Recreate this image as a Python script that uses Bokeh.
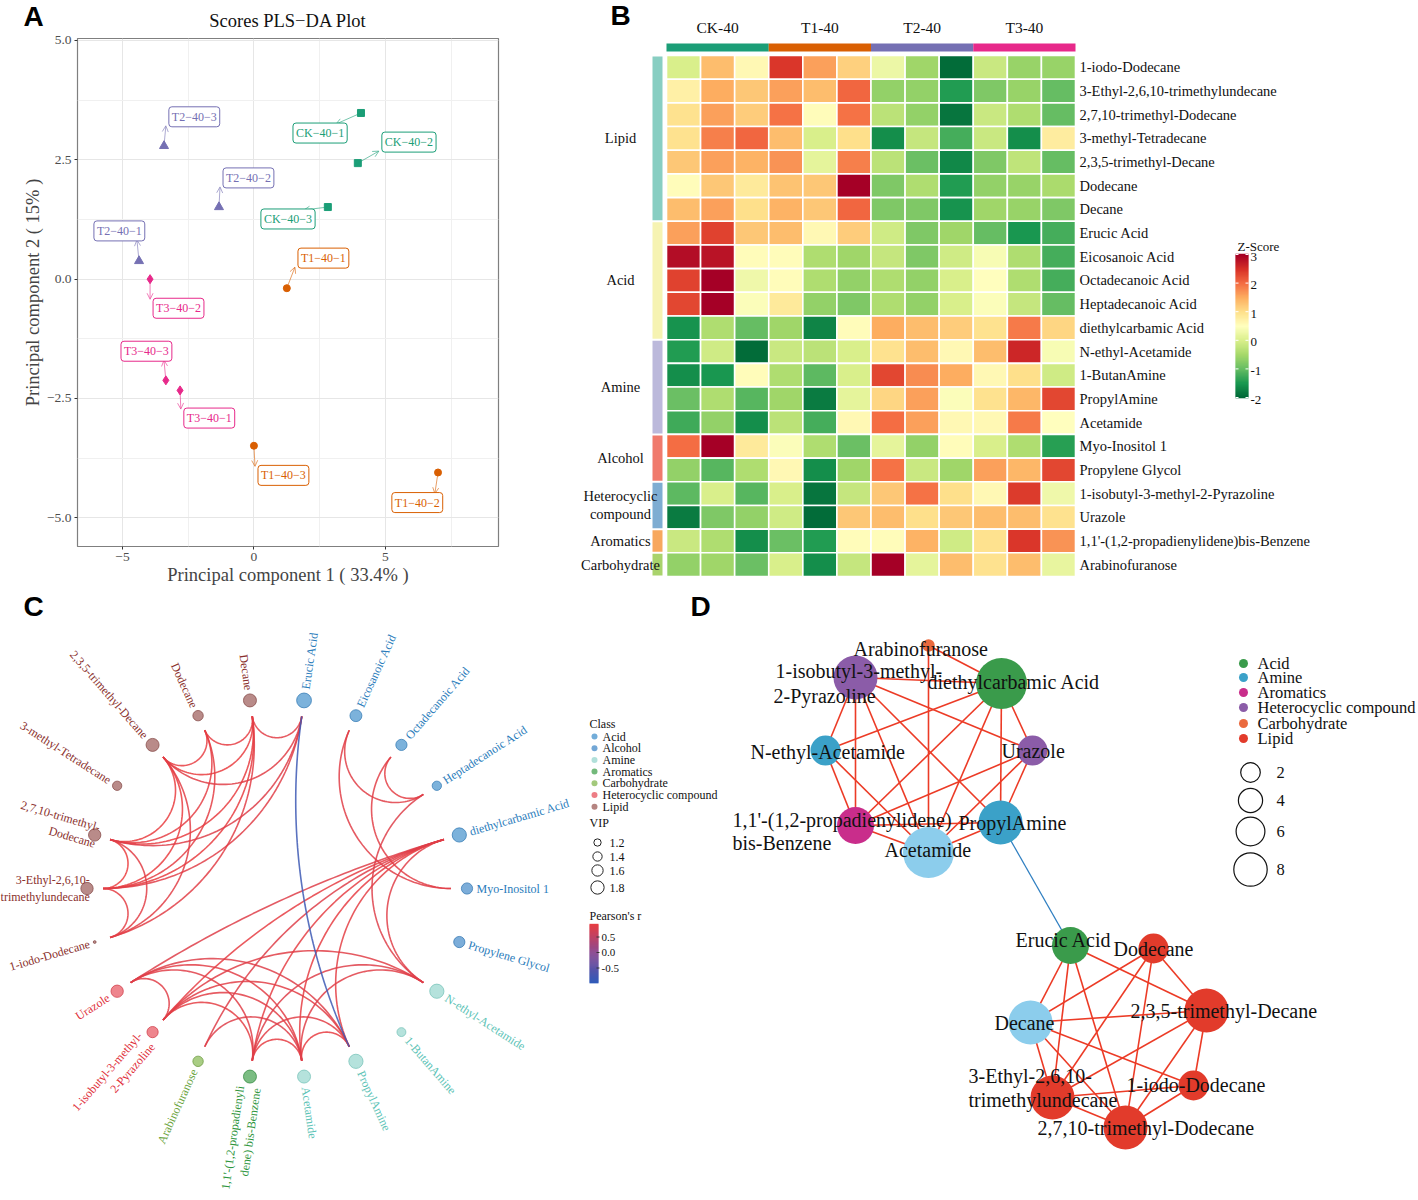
import math
import numpy as np
from bokeh.plotting import figure
from bokeh.models import (Range1d, FixedTicker, Label, Arrow, OpenHead, ColumnDataSource,
                          CustomJSTickFormatter)
from bokeh.transform import linear_cmap
from bokeh.layouts import row, column
from bokeh.core.properties import value
from bokeh.embed import file_html
from bokeh.resources import INLINE

SERIF = "Liberation Serif"
SANS = "Liberation Sans"
MINUS = "\u2212"

# ======================= DATA =======================
# ---- Panel A : PLS-DA scores ----
pls_sample = ["CK-40-1", "CK-40-2", "CK-40-3", "T1-40-1", "T1-40-2", "T1-40-3",
              "T2-40-1", "T2-40-2", "T2-40-3", "T3-40-1", "T3-40-2", "T3-40-3"]
pls_group = ["CK-40"] * 3 + ["T1-40"] * 3 + ["T2-40"] * 3 + ["T3-40"] * 3
pc1 = [4.07, 3.95, 2.81, 1.25, 7.0, 0.0, -4.37, -1.33, -3.42, -2.81, -3.95, -3.35]
pc2 = [3.48, 2.43, 1.51, -0.19, -4.05, -3.49, 0.38, 1.51, 2.79, -2.33, 0.0, -2.12]
# repelled label anchors (left edge, centre)
lab_x = [1.37, 4.75, 0.15, 1.56, 5.13, 0.04, -6.2, -1.29, -3.35, -2.78, -3.95, -5.17]
lab_y = [3.06, 2.87, 1.26, 0.44, -4.68, -4.11, 1.01, 2.12, 3.40, -2.91, -0.61, -1.51]

# ---- Panel B : heatmap (z-scores) ----
groups = ["CK-40", "T1-40", "T2-40", "T3-40"]
metabolites = ["1-iodo-Dodecane", "3-Ethyl-2,6,10-trimethylundecane", "2,7,10-trimethyl-Dodecane",
               "3-methyl-Tetradecane", "2,3,5-trimethyl-Decane", "Dodecane", "Decane",
               "Erucic Acid", "Eicosanoic Acid", "Octadecanoic Acid", "Heptadecanoic Acid",
               "diethylcarbamic Acid", "N-ethyl-Acetamide", "1-ButanAmine", "PropylAmine",
               "Acetamide", "Myo-Inositol 1", "Propylene Glycol",
               "1-isobutyl-3-methyl-2-Pyrazoline", "Urazole",
               "1,1'-(1,2-propadienylidene)bis-Benzene", "Arabinofuranose"]
met_class = ["Lipid"] * 7 + ["Acid"] * 5 + ["Amine"] * 4 + ["Alcohol"] * 2 + \
            ["Heterocyclic compound"] * 2 + ["Aromatics"] + ["Carbohydrate"]
CK40_1 = [0.0, 0.75, 0.95, 0.95, 1.25, 0.55, 1.35, 1.6, 2.85, 2.35, 2.3, -1.55, -1.45, -1.6, -0.95, -1.25, 2.0, -0.65, -1.05, -1.8, -0.15, -0.65]
CK40_2 = [1.35, 1.5, 1.6, 1.85, 1.6, 1.25, 1.6, 2.35, 2.8, 3.0, 3.0, -0.4, -0.1, -1.5, -0.4, -0.65, 3.0, -1.1, 0.0, -0.8, -0.4, -0.55]
CK40_3 = [0.6, 1.25, 1.2, 2.05, 1.45, 0.85, 1.0, 1.25, 0.55, 0.3, 0.45, -1.0, -1.95, 0.55, -1.1, -1.6, 0.85, -0.4, -1.1, -0.65, -1.6, -0.95]
T1_40_1 = [2.45, 1.6, 1.95, 1.35, 1.7, 1.3, 1.45, 1.35, 0.55, 0.55, 0.85, -0.55, -0.15, -0.4, -0.55, -0.3, 0.45, 0.6, 0.0, -0.1, -0.95, 0.0]
T1_40_2 = [1.6, 1.35, 0.55, 0.0, 0.15, 1.25, 1.25, 0.6, -0.4, -0.4, -0.65, -1.7, -0.3, -1.05, -1.8, -1.2, -0.4, -1.6, -1.85, -1.95, -1.45, -1.6]
T1_40_3 = [1.15, 2.05, 1.95, 1.0, 1.85, 3.0, 2.05, 1.2, -0.55, -0.65, -0.8, 0.55, 0.0, 0.0, 0.15, 0.6, -0.95, -0.55, -0.2, 1.25, 0.55, -0.2]
T2_40_1 = [0.25, -0.65, -0.3, -1.6, -0.3, -0.8, -0.8, -0.1, -0.2, -0.4, -0.4, 1.5, 0.95, 2.3, 1.1, 2.0, 0.15, 1.95, 1.25, 1.35, 0.55, 3.0]
T2_40_2 = [-0.55, -0.65, -0.65, -0.2, -0.95, -0.4, -0.8, -0.8, -0.8, -0.65, -0.65, 1.35, 1.35, 1.75, 1.6, 1.6, -0.65, -0.15, 1.95, 1.0, 1.45, 0.15]
T2_40_3 = [-1.95, -1.45, -1.85, -1.2, -1.65, -1.45, -1.55, -0.55, -0.1, 0.0, 0.0, 1.2, 0.6, 1.5, 0.45, 0.6, 0.55, -0.55, 1.0, 1.25, -0.1, 1.35]
T3_40_1 = [-0.15, -0.8, -0.15, -0.15, -0.8, -0.65, -0.55, -1.0, 0.4, 0.5, 0.45, 0.95, 1.35, 0.6, 0.95, 0.6, 0.0, 1.6, 0.6, 1.35, 0.95, 0.95]
T3_40_2 = [-0.6, -0.6, -0.4, -1.6, -0.25, -0.6, -0.6, -1.5, -0.4, -0.4, -0.2, 1.9, 2.6, 1.0, 1.4, 1.9, -0.4, 1.4, 2.4, 1.35, 2.45, 1.35]
T3_40_3 = [-0.6, -1.0, -1.0, 0.8, -1.0, -0.45, -0.8, -1.2, -1.2, -1.2, -1.0, 1.1, 0.4, -0.1, 2.3, 0.5, -1.4, 2.3, 0.3, 0.95, 1.7, 0.2]
z_ticks = [3, 2, 1, 0, -1, -2]

# ---- Panel C : correlation chord (circular order, clockwise from top) ----
c_names = ["Erucic Acid", "Eicosanoic Acid", "Octadecanoic Acid", "Heptadecanoic Acid",
           "diethylcarbamic Acid", "Myo-Inositol 1", "Propylene Glycol", "N-ethyl-Acetamide",
           "1-ButanAmine", "PropylAmine", "Acetamide", "1,1'-(1,2-propadienylidene)bis-Benzene",
           "Arabinofuranose", "1-isobutyl-3-methyl-2-Pyrazoline", "Urazole", "1-iodo-Dodecane",
           "3-Ethyl-2,6,10-trimethylundecane", "2,7,10-trimethyl-Dodecane", "3-methyl-Tetradecane",
           "2,3,5-trimethyl-Decane", "Dodecane", "Decane"]
c_label = ["Erucic Acid", "Eicosanoic Acid", "Octadecanoic Acid", "Heptadecanoic Acid",
           "diethylcarbamic Acid", "Myo-Inositol 1", "Propylene Glycol", "N-ethyl-Acetamide",
           "1-ButanAmine", "PropylAmine", "Acetamide", "1,1'-(1,2-propadienyli\ndene) bis-Benzene",
           "Arabinofuranose", "1-isobutyl-3-methyl-\n2-Pyrazoline", "Urazole", "1-iodo-Dodecane",
           "3-Ethyl-2,6,10-\ntrimethylundecane", "2,7,10-trimethyl-\nDodecane", "3-methyl-Tetradecane",
           "2,3,5-trimethyl-Decane", "Dodecane", "Decane"]
c_class = ["Acid", "Acid", "Acid", "Acid", "Acid", "Alcohol", "Alcohol", "Amine", "Amine", "Amine",
           "Amine", "Aromatics", "Carbohydrate", "Heterocyclic compound", "Heterocyclic compound",
           "Lipid", "Lipid", "Lipid", "Lipid", "Lipid", "Lipid", "Lipid"]
c_vip = [1.95, 1.66, 1.59, 1.40, 1.89, 1.59, 1.59, 1.89, 1.36, 1.89, 1.77, 1.77, 1.51, 1.59,
         1.70, 0.75, 1.70, 1.70, 1.40, 1.77, 1.51, 1.77]
class_order = ["Acid", "Alcohol", "Amine", "Aromatics", "Carbohydrate", "Heterocyclic compound", "Lipid"]
vip_legend = [1.2, 1.4, 1.6, 1.8]
r_ticks = [0.5, 0.0, -0.5]

# correlation edges (|r| above threshold)
edge_a = ["Erucic Acid", "Erucic Acid", "Erucic Acid", "Erucic Acid",
          "Dodecane", "Dodecane", "Dodecane", "Dodecane",
          "Decane", "Decane", "Decane", "Decane",
          "2,3,5-trimethyl-Decane", "2,3,5-trimethyl-Decane", "2,3,5-trimethyl-Decane",
          "3-Ethyl-2,6,10-trimethylundecane", "3-Ethyl-2,6,10-trimethylundecane", "1-iodo-Dodecane",
          "Arabinofuranose", "Arabinofuranose",
          "1-isobutyl-3-methyl-2-Pyrazoline", "1-isobutyl-3-methyl-2-Pyrazoline",
          "1-isobutyl-3-methyl-2-Pyrazoline", "1-isobutyl-3-methyl-2-Pyrazoline",
          "1-isobutyl-3-methyl-2-Pyrazoline", "1-isobutyl-3-methyl-2-Pyrazoline",
          "diethylcarbamic Acid", "diethylcarbamic Acid", "diethylcarbamic Acid",
          "diethylcarbamic Acid", "diethylcarbamic Acid",
          "N-ethyl-Acetamide", "N-ethyl-Acetamide",
          "Urazole", "Urazole", "Urazole",
          "1,1'-(1,2-propadienylidene)bis-Benzene", "1,1'-(1,2-propadienylidene)bis-Benzene",
          "Acetamide", "PropylAmine",
          "Eicosanoic Acid", "Eicosanoic Acid", "Octadecanoic Acid", "Octadecanoic Acid",
          "Heptadecanoic Acid"]
edge_b = ["Decane", "3-Ethyl-2,6,10-trimethylundecane", "2,7,10-trimethyl-Dodecane", "2,3,5-trimethyl-Decane",
          "Decane", "2,3,5-trimethyl-Decane", "3-Ethyl-2,6,10-trimethylundecane", "2,7,10-trimethyl-Dodecane",
          "2,3,5-trimethyl-Decane", "1-iodo-Dodecane", "3-Ethyl-2,6,10-trimethylundecane", "2,7,10-trimethyl-Dodecane",
          "3-Ethyl-2,6,10-trimethylundecane", "1-iodo-Dodecane", "2,7,10-trimethyl-Dodecane",
          "1-iodo-Dodecane", "2,7,10-trimethyl-Dodecane", "2,7,10-trimethyl-Dodecane",
          "diethylcarbamic Acid", "Acetamide",
          "diethylcarbamic Acid", "N-ethyl-Acetamide", "1,1'-(1,2-propadienylidene)bis-Benzene",
          "Acetamide", "PropylAmine", "Urazole",
          "N-ethyl-Acetamide", "1,1'-(1,2-propadienylidene)bis-Benzene", "Acetamide",
          "PropylAmine", "Urazole",
          "1,1'-(1,2-propadienylidene)bis-Benzene", "Acetamide",
          "1,1'-(1,2-propadienylidene)bis-Benzene", "Acetamide", "PropylAmine",
          "Acetamide", "PropylAmine",
          "PropylAmine", "Erucic Acid",
          "Heptadecanoic Acid", "Myo-Inositol 1", "Heptadecanoic Acid", "Myo-Inositol 1",
          "N-ethyl-Acetamide"]
edge_r = [0.86, 0.84, 0.83, 0.85, 0.90, 0.91, 0.88, 0.89, 0.93, 0.87, 0.92, 0.92,
          0.94, 0.86, 0.93, 0.88, 0.95, 0.87,
          0.83, 0.82, 0.90, 0.85, 0.88, 0.87, 0.86, 0.84,
          0.84, 0.89, 0.90, 0.88, 0.83, 0.83, 0.85, 0.84, 0.86, 0.82, 0.90, 0.87,
          0.91, -0.82, 0.85, 0.84, 0.88, 0.86, 0.82]

# ---- Panel D : network ----
d_names = ["Arabinofuranose", "1-isobutyl-3-methyl-2-Pyrazoline", "diethylcarbamic Acid",
           "N-ethyl-Acetamide", "Urazole", "1,1'-(1,2-propadienylidene)bis-Benzene", "PropylAmine",
           "Acetamide", "Erucic Acid", "Dodecane", "Decane", "2,3,5-trimethyl-Decane",
           "1-iodo-Dodecane", "3-Ethyl-2,6,10-trimethylundecane", "2,7,10-trimethyl-Dodecane"]
d_class = ["Carbohydrate", "Heterocyclic compound", "Acid", "Amine", "Heterocyclic compound",
           "Aromatics", "Amine", "Amine", "Acid", "Lipid", "Lipid", "Lipid", "Lipid", "Lipid", "Lipid"]
d_degree = [1.5, 6, 7, 4, 4, 5, 6, 7, 5, 4, 6, 6, 4, 6, 6]
# layout coordinates (page pixels)
d_x = [928, 855, 1001, 825, 1032, 855, 1000, 928, 1070, 1153, 1030, 1206, 1193, 1052, 1125]
d_y = [645, 677, 683, 750, 750, 825, 822, 852, 945, 948, 1022, 1010, 1085, 1097, 1127]
d_text = ["Arabinofuranose", "1-isobutyl-3-methyl-", "2-Pyrazoline", "diethylcarbamic Acid",
          "N-ethyl-Acetamide", "Urazole", "1,1'-(1,2-propadienylidene)", "bis-Benzene",
          "PropylAmine", "Acetamide", "Erucic Acid", "Dodecane", "2,3,5-trimethyl-Decane", "Decane",
          "3-Ethyl-2,6,10-", "trimethylundecane", "1-iodo-Dodecane", "2,7,10-trimethyl-Dodecane"]
d_text_x = [853, 775, 773, 927, 750, 1001, 732, 732, 958, 884, 1015, 1113, 1130, 994, 968, 968, 1126, 1037]
d_text_y = [648, 670, 695, 681, 751, 750, 819, 842, 822, 849, 939, 948, 1010, 1022, 1075, 1099, 1084, 1127]
d_legend_class = ["Acid", "Amine", "Aromatics", "Heterocyclic compound", "Carbohydrate", "Lipid"]
d_size_legend = [2, 4, 6, 8]

# ======================= STYLES =======================
grp_color = {"CK-40": "#1b9e77", "T1-40": "#d95f02", "T2-40": "#7570b3", "T3-40": "#e7298a"}
grp_marker = {"CK-40": "square", "T1-40": "circle", "T2-40": "triangle", "T3-40": "diamond"}
grp_msize = {"CK-40": 7, "T1-40": 7, "T2-40": 9, "T3-40": 9}
row_class_color = {"Lipid": "#88cec2", "Acid": "#f6f3b2", "Amine": "#bcb9db", "Alcohol": "#f07a6c",
                   "Heterocyclic compound": "#7eadd2", "Aromatics": "#f7a85e", "Carbohydrate": "#a9d36c"}
c_fill = {"Acid": "#5b9fd2", "Alcohol": "#5b98cf", "Amine": "#a3dbd3", "Aromatics": "#5aad64",
          "Carbohydrate": "#93c065", "Heterocyclic compound": "#ea6670", "Lipid": "#a86e6b"}
c_line = {"Acid": "#3b80b8", "Alcohol": "#3b7cb5", "Amine": "#7cc6bc", "Aromatics": "#3b8e47",
          "Carbohydrate": "#6f9e44", "Heterocyclic compound": "#d2424d", "Lipid": "#8a4f4c"}
c_text = {"Acid": "#2a7cbb", "Alcohol": "#2a7cbb", "Amine": "#5cc3b6", "Aromatics": "#2f963e",
          "Carbohydrate": "#6aa43c", "Heterocyclic compound": "#e0303a", "Lipid": "#8a2f2c"}
d_fill = {"Acid": "#3a9b4b", "Amine": "#3ba1c8", "Aromatics": "#c92d8b",
          "Heterocyclic compound": "#8b5ca8", "Carbohydrate": "#ea6a3e", "Lipid": "#e23b2b"}
d_fill_override = {"Acetamide": "#8ccdec", "Decane": "#8ccdec"}


def interp_palette(anchors, n):
    cols = [tuple(int(h[k:k + 2], 16) for k in (1, 3, 5)) for h in anchors]
    out = []
    for k in range(n):
        t = k / (n - 1) * (len(cols) - 1)
        i = min(int(t), len(cols) - 2)
        f = t - i
        c = [round(cols[i][j] * (1 - f) + cols[i + 1][j] * f) for j in range(3)]
        out.append("#%02x%02x%02x" % tuple(c))
    return out


z_pal = interp_palette(['#006837', '#1a9850', '#66bd63', '#a6d96a', '#d9ef8b', '#ffffbf',
                        '#fee08b', '#fdae61', '#f46d43', '#d73027', '#a50026'], 256)
r_pal = interp_palette(['#2c5cbb', '#8a4a92', '#f03c3a'], 256)


def clean(p):
    p.outline_line_color = None
    for g in p.grid:
        g.visible = False


def blank(w, h, xr, yr):
    p = figure(width=w, height=h, x_range=Range1d(*xr), y_range=Range1d(*yr),
               output_backend="svg", toolbar_location=None, min_border=0,
               x_axis_location=None, y_axis_location=None, frame_align=False)
    clean(p)
    return p


# ======================= PANEL A =======================
# strip above the scatter: panel letter and title
pAt = blank(560, 32, (0, 560), (32, 0))
pAt.text(x=[33], y=[16], text=["A"], text_font=value(SANS), text_font_style="bold",
         text_font_size="28px", text_align="center", text_baseline="middle")
pAt.text(x=[287.5], y=[20.5], text=["Scores PLS\u2212DA Plot"], text_font=value(SERIF),
         text_font_size="18.5px", text_align="center", text_baseline="middle", text_color="#111111")

pA = figure(width=560, height=558, x_range=Range1d(-6.71, 9.3), y_range=Range1d(-5.6, 5.04),
            output_backend="svg", toolbar_location=None,
            min_border_left=77, min_border_right=62, min_border_top=6, min_border_bottom=44,
            frame_align=False)
pA.xaxis.ticker = FixedTicker(ticks=[-5, 0, 5], minor_ticks=[-2.5, 2.5, 7.5])
pA.yaxis.ticker = FixedTicker(ticks=[-5, -2.5, 0, 2.5, 5], minor_ticks=[-3.75, -1.25, 1.25, 3.75])
pA.xaxis.formatter = CustomJSTickFormatter(code="return (tick < 0 ? '\u2212' : '') + Math.abs(tick).toFixed(0);")
pA.yaxis.formatter = CustomJSTickFormatter(code="return (tick < 0 ? '\u2212' : '') + Math.abs(tick).toFixed(1);")
pA.xaxis.axis_label = "Principal component 1 ( 33.4% )"
pA.yaxis.axis_label = "Principal component 2 ( 15% )"
for ax in (pA.xaxis, pA.yaxis):
    ax.axis_label_text_font = SERIF
    ax.axis_label_text_font_size = "18.5px"
    ax.axis_label_text_font_style = "normal"
    ax.axis_label_standoff = 1
    ax.major_label_text_font = SERIF
    ax.major_label_text_font_size = "13.5px"
    ax.major_label_text_color = "#4d4d4d"
    ax.axis_line_color = None
    ax.major_tick_in = 0
    ax.major_tick_out = 3
    ax.major_tick_line_color = "#333333"
    ax.minor_tick_line_color = None
    ax.major_label_standoff = 2
for g in (pA.xgrid, pA.ygrid):
    g.grid_line_color = "#e6e6e6"
    g.minor_grid_line_color = "#f0f0f0"
pA.outline_line_color = "#7f7f7f"
pA.outline_line_width = 1.2

srcA = ColumnDataSource(dict(x=pc1, y=pc2,
                             color=[grp_color[g] for g in pls_group],
                             marker=[grp_marker[g] for g in pls_group],
                             size=[grp_msize[g] for g in pls_group]))
SX = 421 / 16.01
SY = 508 / 10.64
BOX_W, BOX_H = 46, 18
for i, s in enumerate(pls_sample):
    col = grp_color[pls_group[i]]
    bx0, bx1 = lab_x[i], lab_x[i] + BOX_W / SX
    by0, by1 = lab_y[i] - BOX_H / 2 / SY, lab_y[i] + BOX_H / 2 / SY
    ex = min(max(pc1[i], bx0), bx1)
    ey = min(max(pc2[i], by0), by1)
    pA.add_layout(Arrow(x_start=pc1[i], y_start=pc2[i], x_end=ex, y_end=ey,
                        line_color=col, line_alpha=0.6, line_width=1,
                        end=OpenHead(size=6, line_color=col, line_alpha=0.6, line_width=1)))
    pA.add_layout(Label(x=lab_x[i] + 3 / SX, y=lab_y[i], text=s.replace("-", MINUS),
                        text_font=SERIF, text_font_size="12px", text_color=col,
                        text_baseline="middle", text_align="left",
                        border_line_color=col, border_line_width=1, background_fill_color="white",
                        padding=3, border_radius=3))
pA.scatter("x", "y", source=srcA, marker="marker", size="size", fill_color="color",
           line_color="color")

# ======================= PANEL B =======================
pB = blank(858, 590, (560, 1418), (590, 0))
HX0, HX1, HY0, HY1 = 666.0, 1075.0, 55.0, 576.0
sample_cols = [CK40_1, CK40_2, CK40_3, T1_40_1, T1_40_2, T1_40_3,
               T2_40_1, T2_40_2, T2_40_3, T3_40_1, T3_40_2, T3_40_3]
CW = (HX1 - HX0) / len(sample_cols)
CH = (HY1 - HY0) / len(metabolites)
hx, hy, hz = [], [], []
for j, colv in enumerate(sample_cols):
    for i, v in enumerate(colv):
        hx.append(HX0 + (j + 0.5) * CW)
        hy.append(HY0 + (i + 0.5) * CH)
        hz.append(v)
pB.rect(x="x", y="y", width=CW, height=CH, source=ColumnDataSource(dict(x=hx, y=hy, z=hz)),
        fill_color=linear_cmap("z", z_pal, -2, 3), line_color="white", line_width=1.6)
# column group annotation
gx = [HX0 + (3 * k + 1.5) * CW for k in range(len(groups))]
pB.rect(x=gx, y=[47] * 4, width=3 * CW, height=8, fill_color=[grp_color[g] for g in groups],
        line_color=None)
pB.text(x=gx, y=[27] * 4, text=groups, text_font=value(SERIF), text_font_size="15.5px",
        text_align="center", text_baseline="middle", text_color="#111111")
# row annotation
seg_start, seg_cls = [], []
for i, c in enumerate(met_class):
    if i == 0 or c != met_class[i - 1]:
        seg_start.append(i)
        seg_cls.append(c)
seg_end = seg_start[1:] + [len(met_class)]
seg_y = [HY0 + (a + b) / 2 * CH for a, b in zip(seg_start, seg_end)]
seg_h = [(b - a) * CH - 2 for a, b in zip(seg_start, seg_end)]
pB.rect(x=[657] * len(seg_y), y=seg_y, width=10, height=seg_h,
        fill_color=[row_class_color[c] for c in seg_cls], line_color=None)
cls_txt, cls_y = [], []
for c, yc in zip(seg_cls, seg_y):
    if c == "Heterocyclic compound":
        cls_txt += ["Heterocyclic", "compound"]
        cls_y += [yc - 9, yc + 9]
    else:
        cls_txt.append(c)
        cls_y.append(yc)
pB.text(x=[620] * len(cls_txt), y=cls_y, text=cls_txt, text_font=value(SERIF),
        text_font_size="14.5px", text_align="center", text_baseline="middle", text_color="#111111")
pB.text(x=[1079] * len(metabolites), y=[HY0 + (i + 0.5) * CH for i in range(len(metabolites))],
        text=metabolites, text_font=value(SERIF), text_font_size="14.5px",
        text_align="left", text_baseline="middle", text_color="#111111")
# colour key
ZB_TOP, ZB_BOT = 254.0, 397.0
zpx = (ZB_BOT - ZB_TOP) / 5.0
zv = list(np.linspace(-2, 3, 144))
zsrc = ColumnDataSource(dict(x=[1241.5] * len(zv), y=[ZB_BOT - (v + 2) * zpx for v in zv], v=zv))
pB.rect(x="x", y="y", width=13, height=(ZB_BOT - ZB_TOP) / 143 + 0.6, source=zsrc,
        fill_color=linear_cmap("v", z_pal, -2, 3), line_color=None)
tick_y = [ZB_BOT - (t + 2) * zpx for t in z_ticks]
pB.segment(x0=[1235] * 6, y0=tick_y, x1=[1238] * 6, y1=tick_y, line_color="white", line_width=1)
pB.segment(x0=[1245] * 6, y0=tick_y, x1=[1248] * 6, y1=tick_y, line_color="white", line_width=1)
pB.text(x=[1250] * 6, y=[t + 2 for t in tick_y], text=[str(t) for t in z_ticks], text_font=value(SERIF),
        text_font_size="13px", text_baseline="middle", text_color="#111111")
pB.text(x=[1237], y=[246], text=["Z-Score"], text_font=value(SERIF), text_font_size="13px",
        text_baseline="middle", text_color="#111111")
pB.text(x=[620], y=[15], text=["B"], text_font=value(SANS), text_font_style="bold",
        text_font_size="28px", text_align="center", text_baseline="middle")

# ======================= PANEL C =======================
CX0, CY0 = 276.5, 888.0


def C(ix, iy):
    return ix - CX0, CY0 - iy


pC = blank(725, 610, (0 - CX0, 725 - CX0), (CY0 - 1200, CY0 - 590))
R_NODE, R_HUB = 190.0, 174.0
n = len(c_names)
theta = [2 * math.pi * (i + 0.5) / n for i in range(n)]
idx = {nm: i for i, nm in enumerate(c_names)}


def vip_size(v):
    return max(2.5, 7.3 + (v - 1.2) * 10.0)


def geodesic(a1, a2, r, m=60):
    p1 = np.array([r * math.sin(a1), r * math.cos(a1)])
    p2 = np.array([r * math.sin(a2), r * math.cos(a2)])
    d = abs((a2 - a1 + math.pi) % (2 * math.pi) - math.pi)
    if d > math.pi - 0.03:
        return [p1[0], p2[0]], [p1[1], p2[1]]
    bis = (p1 + p2) / np.linalg.norm(p1 + p2)
    c = bis * r / math.cos(d / 2)
    rho = r * math.tan(d / 2)
    t1 = math.atan2(p1[1] - c[1], p1[0] - c[0])
    t2 = math.atan2(p2[1] - c[1], p2[0] - c[0])
    dt = (t2 - t1 + math.pi) % (2 * math.pi) - math.pi
    ts = t1 + dt * np.linspace(0, 1, m)
    return list(c[0] + rho * np.cos(ts)), list(c[1] + rho * np.sin(ts))


exs, eys, ecol = [], [], []
order = sorted(range(len(edge_r)), key=lambda k: edge_r[k])[::-1]
for k in order:
    if edge_a[k] in idx and edge_b[k] in idx:
        xs_, ys_ = geodesic(theta[idx[edge_a[k]]], theta[idx[edge_b[k]]], R_HUB)
        exs.append(xs_)
        eys.append(ys_)
        ecol.append(r_pal[int(round((max(-1, min(1, edge_r[k])) + 1) / 2 * 255))])
pC.multi_line(xs=exs, ys=eys, line_color=ecol, line_width=1.6, line_alpha=0.85)

node_x = [R_NODE * math.sin(t) for t in theta]
node_y = [R_NODE * math.cos(t) for t in theta]
sizes = [vip_size(v) for v in c_vip]
pC.scatter(node_x, node_y, size=sizes, marker="circle",
           fill_color=[c_fill[c] for c in c_class], fill_alpha=0.8,
           line_color=[c_line[c] for c in c_class], line_width=1, line_alpha=0.8)
for side in ("right", "left"):
    lx, ly, la, lt, lc = [], [], [], [], []
    for i in range(n):
        right = theta[i] < math.pi
        if (side == "right") != right:
            continue
        rl = R_NODE + sizes[i] / 2 + 4
        if "\n" in c_label[i] and abs(math.sin(theta[i])) > 0.9:
            rl -= 13
        lx.append(rl * math.sin(theta[i]))
        ly.append(rl * math.cos(theta[i]))
        ang = math.pi / 2 - theta[i] + (0 if right else math.pi)
        la.append(ang)
        lt.append(c_label[i])
        lc.append(c_text[c_class[i]])
    pC.text(x=lx, y=ly, text=lt, angle=la, text_color=lc, text_font=value(SERIF),
            text_font_size="12px", text_baseline="middle",
            text_align="left" if side == "right" else "right")

# legend C
lx0 = 589
tx, ty = C(lx0, 723)
pC.text(x=[tx], y=[ty], text=["Class"], text_font=value(SERIF), text_font_size="12px",
        text_baseline="middle", text_color="#111111")
cly = [736 + 11.7 * k for k in range(len(class_order))]
pts = [C(594, y) for y in cly]
pC.scatter([p[0] for p in pts], [p[1] for p in pts], size=6, marker="circle",
           fill_color=[c_fill[c] for c in class_order], line_color=None, fill_alpha=0.85)
pts = [C(602, y) for y in cly]
pC.text(x=[p[0] for p in pts], y=[p[1] for p in pts], text=class_order, text_font=value(SERIF),
        text_font_size="12px", text_baseline="middle", text_color="#111111")
tx, ty = C(lx0, 822)
pC.text(x=[tx], y=[ty], text=["VIP"], text_font=value(SERIF), text_font_size="12px",
        text_baseline="middle", text_color="#111111")
vy = [842, 856, 870, 887]
pts = [C(597, y) for y in vy]
pC.scatter([p[0] for p in pts], [p[1] for p in pts], size=[vip_size(v) for v in vip_legend],
           marker="circle", fill_color=None, line_color="#222222", line_width=1)
pts = [C(609, y) for y in vy]
pC.text(x=[p[0] for p in pts], y=[p[1] for p in pts], text=["%.1f" % v for v in vip_legend],
        text_font=value(SERIF), text_font_size="12px", text_baseline="middle", text_color="#111111")
tx, ty = C(lx0, 915)
pC.text(x=[tx], y=[ty], text=["Pearson's r"], text_font=value(SERIF), text_font_size="12px",
        text_baseline="middle", text_color="#111111")
RB_ZERO, RB_PX = 952.0, 31.0
rv = list(np.linspace(-0.97, 0.9, 60))
pts = [C(593.5, RB_ZERO - v * RB_PX) for v in rv]
pC.rect(x=[p[0] for p in pts], y=[p[1] for p in pts], width=9, height=RB_PX * 1.87 / 59 + 0.6,
        fill_color=[r_pal[int(round((v + 1) / 2 * 255))] for v in rv], line_color=None)
pts0 = [C(596, RB_ZERO - v * RB_PX) for v in r_ticks]
pts1 = [C(599, RB_ZERO - v * RB_PX) for v in r_ticks]
pC.segment(x0=[p[0] for p in pts0], y0=[p[1] for p in pts0], x1=[p[0] for p in pts1],
           y1=[p[1] for p in pts1], line_color="#333333", line_width=1)
pts = [C(601, RB_ZERO - v * RB_PX) for v in r_ticks]
pC.text(x=[p[0] for p in pts], y=[p[1] for p in pts], text=["%.1f" % v for v in r_ticks],
        text_font=value(SERIF), text_font_size="11px", text_baseline="middle", text_color="#111111")
# panel letters C and D
pts = [C(33, 606), C(700, 606)]
pC.text(x=[p[0] for p in pts], y=[p[1] for p in pts], text=["C", "D"], text_font=value(SANS),
        text_font_style="bold", text_font_size="28px", text_align="center", text_baseline="middle")

# ======================= PANEL D =======================
pD = blank(693, 610, (725, 1418), (1200, 590))
didx = {nm: i for i, nm in enumerate(d_names)}
sx0, sy0, sx1, sy1, scol, sw = [], [], [], [], [], []
for a, b, r in zip(edge_a, edge_b, edge_r):
    if a in didx and b in didx:
        sx0.append(d_x[didx[a]])
        sy0.append(d_y[didx[a]])
        sx1.append(d_x[didx[b]])
        sy1.append(d_y[didx[b]])
        scol.append("#ec3b26" if r > 0 else "#2f7fc1")
        sw.append(1.6 if r > 0 else 1.3)
pD.segment(x0=sx0, y0=sy0, x1=sx1, y1=sy1, line_color=scol, line_width=sw)
pD.scatter(d_x, d_y, size=[7 * d + 2 for d in d_degree], marker="circle",
           fill_color=[d_fill_override.get(nm, d_fill[c]) for nm, c in zip(d_names, d_class)],
           line_color=None)
pD.text(x=d_text_x, y=d_text_y, text=d_text, text_font=value(SERIF), text_font_size="20px",
        text_baseline="middle", text_align="left", text_color="#111111")
ly_ = [663, 677, 692, 707, 723, 738]
pD.scatter([1243] * 6, ly_, size=9, marker="circle",
           fill_color=[d_fill[c] for c in d_legend_class], line_color=None)
pD.text(x=[1257] * 6, y=ly_, text=d_legend_class, text_font=value(SERIF), text_font_size="16.5px",
        text_baseline="middle", text_color="#111111")
sy_ = [772, 800, 831, 869]
pD.scatter([1250] * 4, sy_, size=[15 + 2.3 * v for v in d_size_legend], marker="circle",
           fill_color=None, line_color="#111111", line_width=1.2)
pD.text(x=[1276] * 4, y=sy_, text=[str(v) for v in d_size_legend], text_font=value(SERIF),
        text_font_size="16.5px", text_baseline="middle", text_color="#111111")

layout = column(row(column(pAt, pA), pB), row(pC, pD))
open("out.html", "w").write(file_html(layout, INLINE))
